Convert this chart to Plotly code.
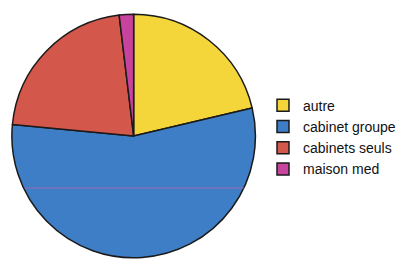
import plotly.graph_objects as go

labels = ["autre", "cabinet groupe", "cabinets seuls", "maison med"]
values = [21.3, 55.2, 21.6, 1.9]
colors = ["#F4D53A", "#3E7EC6", "#D4574B", "#C8439E"]

fig = go.Figure(go.Pie(
    labels=labels,
    values=values,
    sort=False,
    direction="clockwise",
    rotation=0,
    textinfo="none",
    hoverinfo="label+percent",
    marker=dict(colors=colors, line=dict(color="#1a1a1a", width=1.5)),
    domain=dict(x=[12/401, 258/401], y=[0, 246/259]),
))

fig.update_layout(
    width=401, height=259,
    margin=dict(l=0, r=0, t=0, b=0),
    paper_bgcolor="white",
    plot_bgcolor="white",
    showlegend=True,
    legend=dict(
        x=0.663, y=0.47, xanchor="left", yanchor="middle",
        font=dict(family="Liberation Sans, Arial, sans-serif", size=14, color="#111"),
        bgcolor="rgba(0,0,0,0)",
    ),
    shapes=[dict(type="line", xref="paper", yref="paper",
                 x0=25/401, x1=247/401, y0=1-188/259, y1=1-188/259,
                 line=dict(color="#C060B0", width=1), opacity=0.7)],
)

fig.write_html("out.html", config={"displayModeBar": False},
               post_script="document.body.style.margin='0';")
